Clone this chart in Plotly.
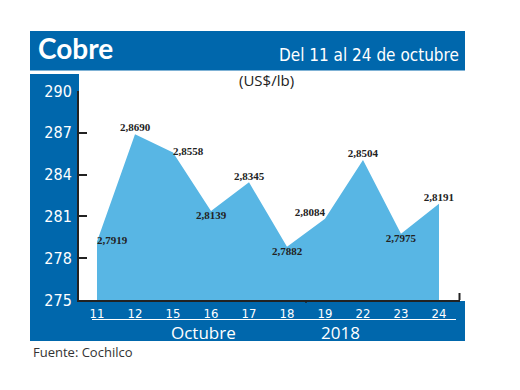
import plotly.graph_objects as go

days = ["11", "12", "15", "16", "17", "18", "19", "22", "23", "24"]
prices = [2.7919, 2.8690, 2.8558, 2.8139, 2.8345, 2.7882, 2.8084, 2.8504, 2.7975, 2.8191]
label_pos = ["middle right", "top center", "middle right", "bottom center", "top center",
             "bottom center", "top left", "top center", "bottom center", "top center"]
y_ticks = [275, 278, 281, 284, 287, 290]

BLUE = "#0067AC"
AREA = "#58B6E4"
COND = "DejaVu Sans Condensed, Liberation Sans Narrow, sans-serif"

OFF = 8  # page body margin offset
W, H = 520 - OFF, 390 - OFF
L, R, T, B = 79, 460, 91, 300  # plot area in reference pixels


def px(x):
    return (x - L) / (R - L)


def py(y):
    return (B - y) / (B - T)


cents = [p * 100 for p in prices]
labels = [f"{p:.4f}".replace(".", ",") for p in prices]

fig = go.Figure()
fig.add_trace(go.Scatter(x=days, y=cents, mode="lines", fill="tozeroy",
                         fillcolor=AREA, line=dict(width=0, color=AREA),
                         hoverinfo="skip", showlegend=False))
fig.add_trace(go.Scatter(x=days, y=cents, mode="text", text=labels,
                         textposition=label_pos,
                         textfont=dict(family="Liberation Serif", size=11, color="#222", weight="bold"),
                         hoverinfo="skip", showlegend=False))

shapes = [
    dict(type="rect", xref="paper", yref="paper", x0=px(30), x1=px(465), y0=py(70.5), y1=py(31),
         fillcolor=BLUE, line=dict(width=0), layer="below"),
    dict(type="rect", xref="paper", yref="paper", x0=px(30), x1=px(79), y0=py(341), y1=py(74),
         fillcolor=BLUE, line=dict(width=0), layer="below"),
    dict(type="rect", xref="paper", yref="paper", x0=px(79), x1=px(465), y0=py(341), y1=py(301),
         fillcolor=BLUE, line=dict(width=0), layer="below"),
    dict(type="line", xref="paper", yref="paper", x0=px(92), x1=px(456), y0=py(319.5), y1=py(319.5),
         line=dict(color="white", width=1.2)),
    dict(type="line", xref="paper", yref="paper", x0=px(459.5), x1=px(459.5), y0=py(300), y1=py(293),
         line=dict(color="#222", width=2)),
    dict(type="line", xref="paper", yref="paper", x0=px(306), x1=px(306), y0=py(300), y1=py(303),
         line=dict(color="#222", width=1.5)),
]

annotations = [
    dict(text="Cobre", x=px(36), y=py(48), xref="paper", yref="paper", xanchor="left",
         yanchor="middle", showarrow=False,
         font=dict(family="Lato", size=28, color="white", weight="bold")),
    dict(text="Del 11 al 24 de octubre", x=px(461), y=py(55), xref="paper", yref="paper",
         xanchor="right", yanchor="middle", showarrow=False,
         font=dict(family=COND, size=17, color="white")),
    dict(text="(US$/lb)", x=px(266), y=py(80), xref="paper", yref="paper", xanchor="center",
         yanchor="middle", showarrow=False,
         font=dict(family="Open Sans", size=15, color="#222")),
    dict(text="Octubre", x=px(203), y=py(332), xref="paper", yref="paper", xanchor="center",
         yanchor="middle", showarrow=False,
         font=dict(family="Open Sans", size=17, color="white")),
    dict(text="2018", x=px(340), y=py(332), xref="paper", yref="paper", xanchor="center",
         yanchor="middle", showarrow=False,
         font=dict(family="Open Sans", size=17, color="white")),
    dict(text="Fuente: Cochilco", x=px(31), y=py(352), xref="paper", yref="paper", xanchor="left",
         yanchor="middle", showarrow=False,
         font=dict(family="Open Sans", size=13, color="#333")),
]

fig.update_layout(
    width=W, height=H,
    margin=dict(l=L - OFF, r=W - (R - OFF), t=T - OFF, b=H - (B - OFF), pad=0),
    paper_bgcolor="white", plot_bgcolor="white",
    shapes=shapes, annotations=annotations,
    xaxis=dict(type="category", range=[-0.474, 9.553], showgrid=False, zeroline=False,
               showline=True, linecolor="#222", linewidth=2, ticks="",
               tickfont=dict(family=COND, size=13, color="white"),
               ticklabelstandoff=0),
    yaxis=dict(range=[275, 290], tickvals=y_ticks, showgrid=False, zeroline=False,
               showline=True, linecolor="#222", linewidth=2, ticks="inside", ticklen=8,
               tickwidth=2, tickcolor="#222",
               tickfont=dict(family=COND, size=16, color="white"),
               ticklabelstandoff=2),
)

fig.write_html("out.html")
